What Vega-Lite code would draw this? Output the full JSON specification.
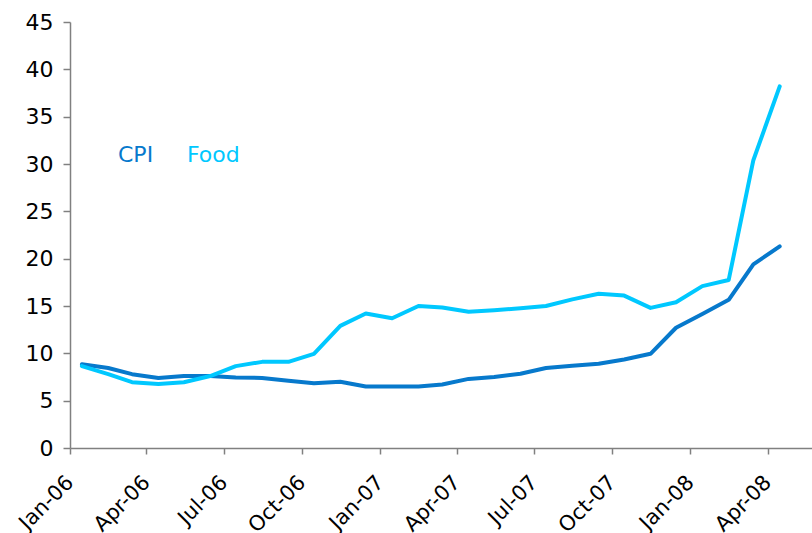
{
  "$schema": "https://vega.github.io/schema/vega-lite/v6.json",
  "width": 742,
  "height": 426,
  "autosize": "none",
  "padding": {"left": 70, "top": 22, "right": 0, "bottom": 85},
  "background": "white",
  "config": {"view": {"stroke": null}, "font": "DejaVu Sans"},
  "data": {"values": [
    {"date": "2006-01-15", "series": "CPI", "value": 8.85},
    {"date": "2006-02-15", "series": "CPI", "value": 8.45},
    {"date": "2006-03-15", "series": "CPI", "value": 7.8},
    {"date": "2006-04-15", "series": "CPI", "value": 7.4},
    {"date": "2006-05-15", "series": "CPI", "value": 7.6},
    {"date": "2006-06-15", "series": "CPI", "value": 7.6},
    {"date": "2006-07-15", "series": "CPI", "value": 7.45},
    {"date": "2006-08-15", "series": "CPI", "value": 7.4},
    {"date": "2006-09-15", "series": "CPI", "value": 7.1},
    {"date": "2006-10-15", "series": "CPI", "value": 6.85},
    {"date": "2006-11-15", "series": "CPI", "value": 7.0},
    {"date": "2006-12-15", "series": "CPI", "value": 6.5},
    {"date": "2007-01-15", "series": "CPI", "value": 6.5},
    {"date": "2007-02-15", "series": "CPI", "value": 6.5},
    {"date": "2007-03-15", "series": "CPI", "value": 6.7},
    {"date": "2007-04-15", "series": "CPI", "value": 7.3},
    {"date": "2007-05-15", "series": "CPI", "value": 7.5},
    {"date": "2007-06-15", "series": "CPI", "value": 7.85},
    {"date": "2007-07-15", "series": "CPI", "value": 8.45},
    {"date": "2007-08-15", "series": "CPI", "value": 8.7},
    {"date": "2007-09-15", "series": "CPI", "value": 8.9},
    {"date": "2007-10-15", "series": "CPI", "value": 9.35},
    {"date": "2007-11-15", "series": "CPI", "value": 9.95},
    {"date": "2007-12-15", "series": "CPI", "value": 12.7},
    {"date": "2008-01-15", "series": "CPI", "value": 14.15},
    {"date": "2008-02-15", "series": "CPI", "value": 15.65},
    {"date": "2008-03-15", "series": "CPI", "value": 19.4},
    {"date": "2008-04-15", "series": "CPI", "value": 21.3},
    {"date": "2006-01-15", "series": "Food", "value": 8.65},
    {"date": "2006-02-15", "series": "Food", "value": 7.8},
    {"date": "2006-03-15", "series": "Food", "value": 6.95},
    {"date": "2006-04-15", "series": "Food", "value": 6.75},
    {"date": "2006-05-15", "series": "Food", "value": 6.95},
    {"date": "2006-06-15", "series": "Food", "value": 7.6},
    {"date": "2006-07-15", "series": "Food", "value": 8.65},
    {"date": "2006-08-15", "series": "Food", "value": 9.1},
    {"date": "2006-09-15", "series": "Food", "value": 9.1},
    {"date": "2006-10-15", "series": "Food", "value": 9.95},
    {"date": "2006-11-15", "series": "Food", "value": 12.9},
    {"date": "2006-12-15", "series": "Food", "value": 14.2},
    {"date": "2007-01-15", "series": "Food", "value": 13.7},
    {"date": "2007-02-15", "series": "Food", "value": 15.0},
    {"date": "2007-03-15", "series": "Food", "value": 14.85},
    {"date": "2007-04-15", "series": "Food", "value": 14.4},
    {"date": "2007-05-15", "series": "Food", "value": 14.55},
    {"date": "2007-06-15", "series": "Food", "value": 14.75},
    {"date": "2007-07-15", "series": "Food", "value": 15.0},
    {"date": "2007-08-15", "series": "Food", "value": 15.7},
    {"date": "2007-09-15", "series": "Food", "value": 16.3},
    {"date": "2007-10-15", "series": "Food", "value": 16.1},
    {"date": "2007-11-15", "series": "Food", "value": 14.8},
    {"date": "2007-12-15", "series": "Food", "value": 15.4},
    {"date": "2008-01-15", "series": "Food", "value": 17.1},
    {"date": "2008-02-15", "series": "Food", "value": 17.75},
    {"date": "2008-03-15", "series": "Food", "value": 30.4},
    {"date": "2008-04-15", "series": "Food", "value": 38.2}
  ]},
  "mark": {"type": "line", "strokeWidth": 4, "strokeJoin": "round", "strokeCap": "round"},
  "encoding": {
    "x": {
      "field": "date",
      "type": "temporal",
      "scale": {"type": "utc", "domain": [{"year": 2006, "month": 1, "date": 1, "utc": true}, {"year": 2008, "month": 5, "date": 23, "utc": true}]},
      "axis": {
        "title": null,
        "grid": false,
        "values": [
          {"year": 2006, "month": 1, "date": 1, "utc": true},
          {"year": 2006, "month": 4, "date": 1, "utc": true},
          {"year": 2006, "month": 7, "date": 1, "utc": true},
          {"year": 2006, "month": 10, "date": 1, "utc": true},
          {"year": 2007, "month": 1, "date": 1, "utc": true},
          {"year": 2007, "month": 4, "date": 1, "utc": true},
          {"year": 2007, "month": 7, "date": 1, "utc": true},
          {"year": 2007, "month": 10, "date": 1, "utc": true},
          {"year": 2008, "month": 1, "date": 1, "utc": true},
          {"year": 2008, "month": 4, "date": 1, "utc": true}
        ],
        "labelExpr": "utcFormat(datum.value, '%b-%y')",
        "labelAngle": -45,
        "labelAlign": "right",
        "labelBaseline": "middle",
        "labelFontSize": 21,
        "labelColor": "#000000",
        "labelPadding": 25,
        "labelOverlap": false,
        "labelFlush": false,
        "tickSize": 6,
        "tickColor": "#808080",
        "tickWidth": 1.5,
        "domainColor": "#808080",
        "domainWidth": 1.5
      }
    },
    "y": {
      "field": "value",
      "type": "quantitative",
      "scale": {"domain": [0, 45], "nice": false},
      "axis": {
        "title": null,
        "grid": false,
        "values": [0, 5, 10, 15, 20, 25, 30, 35, 40, 45],
        "labelFontSize": 22,
        "labelColor": "#000000",
        "labelPadding": 10,
        "labelFlush": false,
        "tickSize": 7,
        "tickColor": "#808080",
        "tickWidth": 1.5,
        "domainColor": "#808080",
        "domainWidth": 1.5
      }
    },
    "color": {
      "field": "series",
      "type": "nominal",
      "scale": {"domain": ["CPI", "Food"], "range": ["#0779CC", "#00C8FF"]},
      "legend": {
        "title": null,
        "orient": "none",
        "direction": "horizontal",
        "legendX": 26,
        "legendY": 122,
        "padding": 0,
        "symbolSize": 0,
        "symbolStrokeWidth": 0,
        "symbolOpacity": 0,
        "labelOffset": 0,
        "labelFontSize": 22,
        "columnPadding": 11,
        "encode": {"labels": {"update": {"fill": {"scale": "color", "field": "value"}}}}
      }
    }
  }
}
